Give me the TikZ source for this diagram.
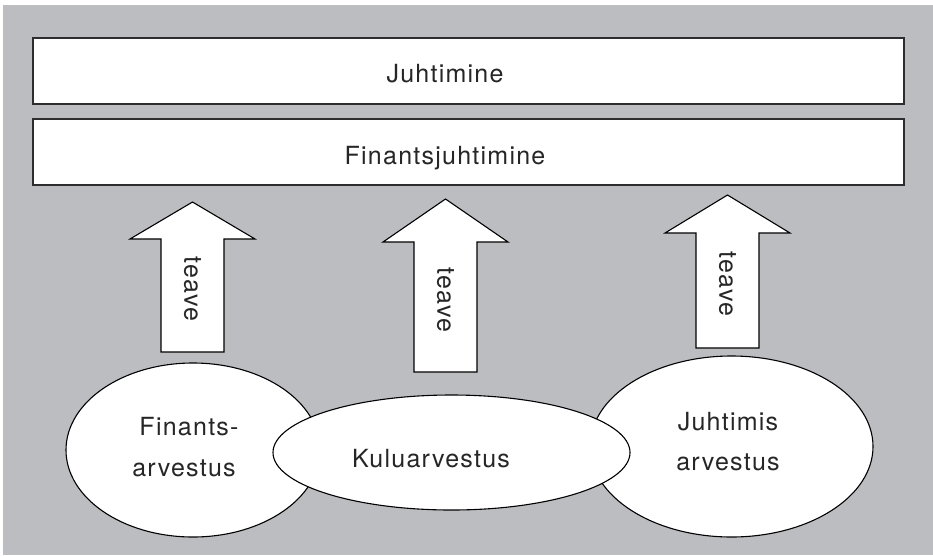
\documentclass[tikz,border=0pt]{standalone}
\usepackage{fontspec}
\setmainfont{TeX Gyre Heros}[LetterSpace=5]
\usetikzlibrary{shapes.geometric}
\definecolor{panel}{RGB}{188,189,193}
\definecolor{rule}{RGB}{45,45,45}

% up arrow with a rotated "teave" label:
% #1 label name, #2 centre x, #3 tip y, #4 head base y, #5 shaft bottom y, #6 label centre y
\newcommand\teavearrow[6]{%
  \draw[infoarrow] (#2-31.5,#5) -- (#2-31.5,#4) -- (#2-62.5,#4) -- (#2,#3)
    -- (#2+62.5,#4) -- (#2+31.5,#4) -- (#2+31.5,#5) -- cycle;
  \node[label, rotate=-90] (#1) at (#2,#6) {teave};}

\begin{document}
\begin{tikzpicture}[x=1pt,y=-1pt,
  label/.style={font=\fontsize{25}{41}\selectfont, inner sep=0pt, text=black!85},
  band/.style={draw=rule, line width=2pt, fill=white, inner sep=0pt},
  oval/.style={ellipse, draw=black, line width=1.1pt, fill=white, inner sep=0pt},
  infoarrow/.style={draw=black, line width=1.1pt, fill=white, line join=miter},
]
\useasboundingbox (0,0) rectangle (933,555);
\fill[panel] (3,5) rectangle (933,555);

% top bands
\node[band, minimum width=871pt, minimum height=66pt] (top) at (468.5,71) {};
\node[label, anchor=base] (toptext) at (445,82) {Juhtimine};
\node[band, minimum width=871pt, minimum height=66pt] (fin) at (468.5,152) {};
\node[label, anchor=base] (fintext) at (445,164) {Finantsjuhtimine};

% information arrows
\teavearrow{teaveA}{192.5}{202}{239}{352}{289}
\teavearrow{teaveB}{445.5}{199}{242}{372}{300}
\teavearrow{teaveC}{727.5}{195}{233}{348}{284}

% accounting branches
\node[oval, minimum width=254pt, minimum height=174pt] (finacc) at (193,450) {};
\node[oval, minimum width=283pt, minimum height=181pt] (mgmtacc) at (731.5,446.5) {};
\node[oval, minimum width=357pt, minimum height=115pt] (costacc) at (451.5,452.5) {};

\node[label, anchor=base] (finacc1) at (189,435) {Finants-};
\node[label, anchor=base] (finacc2) at (184,476) {arvestus};
\node[label, anchor=base] (costtext) at (431,467) {Kuluarvestus};
\node[label, anchor=base] (mgmtacc1) at (728,430) {Juhtimis};
\node[label, anchor=base] (mgmtacc2) at (728,470) {arvestus};
\end{tikzpicture}
\end{document}
